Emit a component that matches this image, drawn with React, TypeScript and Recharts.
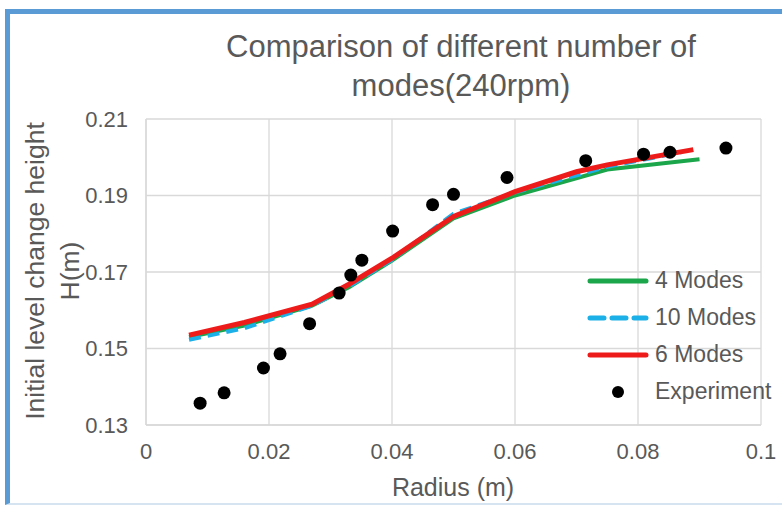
import React from 'react';
import {
  ComposedChart,
  Line,
  Scatter,
  XAxis,
  YAxis,
  CartesianGrid,
  Legend
} from 'recharts';

const FONT = '"Liberation Sans", Arial, sans-serif';
const TEXT = '#595959';

const xTicks = [0, 0.02, 0.04, 0.06, 0.08, 0.1];
const yTicks = [0.13, 0.15, 0.17, 0.19, 0.21];

// radius (m) / height (m)
const modes4 = [
  { r: 0.007, h: 0.1530 },
  { r: 0.016, h: 0.1560 },
  { r: 0.027, h: 0.1612 },
  { r: 0.033, h: 0.1660 },
  { r: 0.040, h: 0.1730 },
  { r: 0.050, h: 0.1840 },
  { r: 0.060, h: 0.1900 },
  { r: 0.075, h: 0.1968 },
  { r: 0.090, h: 0.1995 }
];

const modes10 = [
  { r: 0.007, h: 0.1523 },
  { r: 0.016, h: 0.1553 },
  { r: 0.027, h: 0.1612 },
  { r: 0.033, h: 0.1662 },
  { r: 0.040, h: 0.1732 },
  { r: 0.050, h: 0.1852 },
  { r: 0.060, h: 0.1908 },
  { r: 0.075, h: 0.1975 },
  { r: 0.087, h: 0.2013 }
];

const modes6 = [
  { r: 0.007, h: 0.1535 },
  { r: 0.016, h: 0.1568 },
  { r: 0.027, h: 0.1616 },
  { r: 0.033, h: 0.1668 },
  { r: 0.040, h: 0.1736 },
  { r: 0.050, h: 0.1845 },
  { r: 0.060, h: 0.1910 },
  { r: 0.070, h: 0.1962 },
  { r: 0.075, h: 0.1980 },
  { r: 0.089, h: 0.2020 }
];

const experiment = [
  { r: 0.0088, h: 0.1357 },
  { r: 0.0127, h: 0.1384 },
  { r: 0.0191, h: 0.1449 },
  { r: 0.0218, h: 0.1486 },
  { r: 0.0266, h: 0.1565 },
  { r: 0.0314, h: 0.1645 },
  { r: 0.0333, h: 0.1692 },
  { r: 0.0351, h: 0.1731 },
  { r: 0.0401, h: 0.1807 },
  { r: 0.0466, h: 0.1876 },
  { r: 0.0500, h: 0.1903 },
  { r: 0.0587, h: 0.1947 },
  { r: 0.0715, h: 0.1991 },
  { r: 0.0809, h: 0.2008 },
  { r: 0.0852, h: 0.2013 },
  { r: 0.0943, h: 0.2024 }
];

const legendItems = [
  { name: '4 Modes', color: '#1ba64b', dash: undefined as string | undefined, kind: 'line' },
  { name: '10 Modes', color: '#1cb0e8', dash: '14 8', kind: 'line' },
  { name: '6 Modes', color: '#ee1b1b', dash: undefined, kind: 'line' },
  { name: 'Experiment', color: '#000', dash: undefined, kind: 'dot' }
];

function renderLegend() {
  return (
    <div style={{ fontFamily: FONT, fontSize: 23, color: TEXT }}>
      {legendItems.map((it) => (
        <div key={it.name} style={{ height: 37, display: 'flex', alignItems: 'center' }}>
          <svg width={67} height={12} style={{ display: 'block' }}>
            {it.kind === 'line' ? (
              <line
                x1={7}
                y1={6}
                x2={63}
                y2={6}
                stroke={it.color}
                strokeWidth={5}
                strokeDasharray={it.dash}
                strokeLinecap="round"
              />
            ) : (
              <circle cx={35} cy={6} r={6} fill="#000" />
            )}
          </svg>
          <span style={{ marginLeft: 5, lineHeight: '37px' }}>{it.name}</span>
        </div>
      ))}
    </div>
  );
}

const dotShape = (p: any) => <circle cx={p.cx} cy={p.cy} r={6.5} fill="#000" />;

export default function App() {
  return (
    <div
      style={{
        position: 'absolute',
        left: 0,
        top: 0,
        width: 782,
        height: 506,
        overflow: 'hidden',
        background: '#fff',
        fontFamily: FONT
      }}
    >
      <div
        style={{
          position: 'absolute',
          left: 5,
          top: 9,
          width: 800,
          height: 496,
          boxSizing: 'border-box',
          borderTop: '5px solid #5b9bd5',
          borderLeft: '5px solid #5b9bd5',
          borderBottom: '2px solid #d6e4f1'
        }}
      />
      <div
        style={{
          position: 'absolute',
          left: 161,
          top: 27,
          width: 600,
          textAlign: 'center',
          fontSize: 31,
          lineHeight: '39px',
          color: TEXT
        }}
      >
        Comparison of different number of
        <br />
        modes(240rpm)
      </div>
      <div
        style={{
          position: 'absolute',
          left: 53 - 200,
          top: 271 - 35,
          width: 400,
          height: 70,
          transform: 'rotate(-90deg)',
          textAlign: 'center',
          fontSize: 26.5,
          lineHeight: '35px',
          color: TEXT
        }}
      >
        Initial level change height
        <br />
        H(m)
      </div>
      <div
        style={{
          position: 'absolute',
          left: 253,
          top: 471,
          width: 400,
          textAlign: 'center',
          fontSize: 25,
          lineHeight: '32px',
          color: TEXT
        }}
      >
        Radius (m)
      </div>
      <div style={{ position: 'absolute', left: 0, top: 0 }}>
        <ComposedChart
          width={782}
          height={506}
          margin={{ top: 119, right: 21, bottom: 41, left: 86 }}
        >
          <CartesianGrid stroke="#d9d9d9" strokeWidth={1.3} />
          <XAxis
            type="number"
            dataKey="r"
            domain={[0, 0.1]}
            ticks={xTicks}
            allowDataOverflow
            height={40}
            tickLine={false}
            axisLine={{ stroke: '#d9d9d9', strokeWidth: 1.3 }}
            tickMargin={12}
            tick={{ fill: TEXT, fontSize: 22, fontFamily: FONT }}
            tickFormatter={(v: number) => String(v)}
          />
          <YAxis
            type="number"
            dataKey="h"
            domain={[0.13, 0.21]}
            ticks={yTicks}
            allowDataOverflow
            width={60}
            tickLine={false}
            axisLine={{ stroke: '#d9d9d9', strokeWidth: 1.3 }}
            tickMargin={12}
            tick={{ fill: TEXT, fontSize: 22, fontFamily: FONT }}
            tickFormatter={(v: number) => v.toFixed(2)}
          />
          <Line
            data={modes4}
            dataKey="h"
            name="4 Modes"
            type="linear"
            stroke="#1ba64b"
            strokeWidth={4}
            dot={false}
            activeDot={false}
            isAnimationActive={false}
          />
          <Line
            data={modes10}
            dataKey="h"
            name="10 Modes"
            type="linear"
            stroke="#1cb0e8"
            strokeWidth={4}
            strokeDasharray="12 7"
            dot={false}
            activeDot={false}
            isAnimationActive={false}
          />
          <Line
            data={modes6}
            dataKey="h"
            name="6 Modes"
            type="linear"
            stroke="#ee1b1b"
            strokeWidth={5}
            dot={false}
            activeDot={false}
            isAnimationActive={false}
          />
          <Scatter
            data={experiment}
            dataKey="h"
            name="Experiment"
            fill="#000"
            shape={dotShape}
            isAnimationActive={false}
          />
          <Legend
            layout="vertical"
            align="center"
            verticalAlign="middle"
            content={renderLegend}
            wrapperStyle={{ position: 'absolute', left: 583, top: 262, width: 200 }}
          />
        </ComposedChart>
      </div>
    </div>
  );
}
